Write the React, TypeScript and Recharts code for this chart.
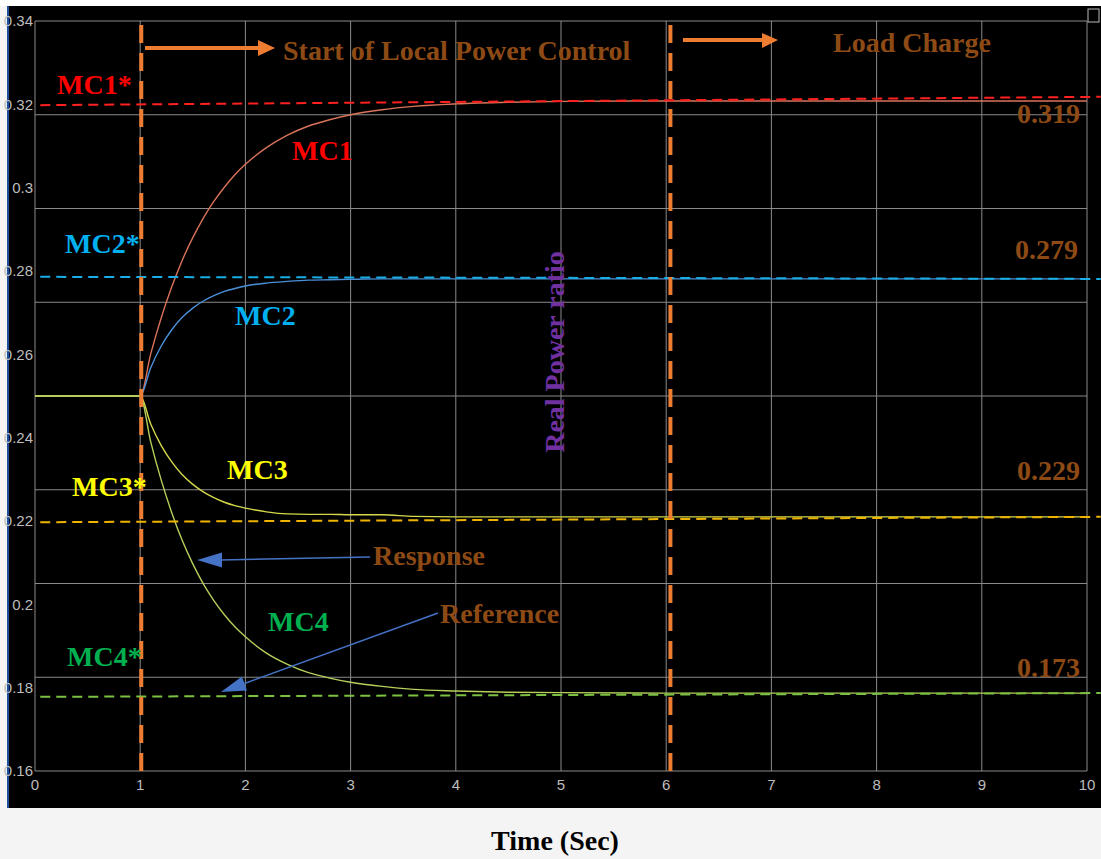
import { CartesianGrid, Line, LineChart, ReferenceLine, XAxis, YAxis } from "recharts";

// simulation time (s)
const time = [0, 1, 1.1, 1.2, 1.3, 1.4, 1.5, 1.6, 1.7, 1.8, 1.9, 2.0, 2.2, 2.4, 2.6, 2.8, 3.0, 3.3, 3.6, 4.0, 4.5, 5, 6, 7, 8, 9, 10];

const mc1 = [0.25, 0.25, 0.2601, 0.2688, 0.2762, 0.2826, 0.288, 0.2927, 0.2967, 0.3001, 0.3031, 0.3056, 0.3096, 0.3126, 0.3148, 0.3163, 0.3175, 0.3187, 0.3195, 0.3201, 0.3205, 0.3207, 0.3208, 0.3208, 0.3208, 0.3208, 0.3208];
const mc2 = [0.25, 0.25, 0.2568, 0.262, 0.2659, 0.2689, 0.2711, 0.2728, 0.2741, 0.2751, 0.2758, 0.2764, 0.2771, 0.2775, 0.2778, 0.2779, 0.278, 0.2781, 0.2781, 0.2781, 0.2781, 0.2781, 0.2781, 0.2781, 0.2781, 0.2781, 0.2781];
const mc3 = [0.25, 0.25, 0.2433, 0.2381, 0.2342, 0.2311, 0.2288, 0.227, 0.2256, 0.2245, 0.2237, 0.2231, 0.2222, 0.2217, 0.2216, 0.2216, 0.2215, 0.2215, 0.2211, 0.221, 0.221, 0.221, 0.221, 0.221, 0.221, 0.221, 0.221];
const mc4 = [0.25, 0.25, 0.239, 0.2298, 0.222, 0.2153, 0.2097, 0.2049, 0.2009, 0.1975, 0.1946, 0.1922, 0.1883, 0.1856, 0.1836, 0.1823, 0.1813, 0.1803, 0.1796, 0.1792, 0.1789, 0.1788, 0.1787, 0.1787, 0.1787, 0.1787, 0.1787];

// hand-drawn reference (setpoint) lines: value at left end, value at right end
const refSpan = [0.05, 10.13];
const ref1 = [0.3198, 0.3218];
const ref2 = [0.2786, 0.2781];
const ref3 = [0.2197, 0.221];
const ref4 = [0.1778, 0.1787];

// event markers (s)
const startControl = 1.01;
const loadChange = 6.04;

const yTicks = [0.16, 0.18, 0.2, 0.22, 0.24, 0.26, 0.28, 0.3, 0.32, 0.34];
const xTicks = [0, 1, 2, 3, 4, 5, 6, 7, 8, 9, 10];
// scope grid (8 vertical divisions)
const gridY = [0.16, 0.1825, 0.205, 0.2275, 0.25, 0.2725, 0.295, 0.3175, 0.34];

const data = time.map((t, i) => ({ t, mc1: mc1[i], mc2: mc2[i], mc3: mc3[i], mc4: mc4[i] }));

const tickFont = "'Liberation Sans', Arial, sans-serif";
const serif = "'Liberation Serif', 'Times New Roman', serif";
const brown = "#8E4A15";
const orange = "#ED7D31";
const blue = "#4472C4";

const refLine = (vals: number[], color: string) => (
  <ReferenceLine
    segment={[{ x: refSpan[0], y: vals[0] }, { x: refSpan[1], y: vals[1] }]}
    stroke={color}
    strokeWidth={2}
    strokeDasharray="10 6"
    ifOverflow="visible"
  />
);

const label = (text: string, x: number, y: number, fill: string, anchor = "start") => (
  <text x={x} y={y} fill={fill} fontFamily={serif} fontWeight="bold" fontSize={28} textAnchor={anchor}>
    {text}
  </text>
);

export default function App() {
  return (
    <div style={{ position: "absolute", left: 0, top: 0, width: 1101, height: 859, background: "#f4f4f4", overflow: "hidden" }}>
      <div style={{ position: "absolute", left: 0, top: 0, width: 1101, height: 6, background: "#fff" }} />
      <div style={{ position: "absolute", left: 7, top: 6, width: 1092, height: 802, background: "#000", borderLeft: "2px solid #1f4e9a" }} />

      <LineChart
        width={1101}
        height={859}
        data={data}
        margin={{ top: 21, right: 14, bottom: 58, left: 5 }}
        style={{ position: "absolute", left: 0, top: 0 }}
      >
        <CartesianGrid stroke="#8a8a8a" strokeWidth={1} horizontalValues={gridY} verticalValues={xTicks} />
        <XAxis
          dataKey="t"
          type="number"
          domain={[0, 10]}
          ticks={xTicks}
          axisLine={false}
          tickLine={false}
          tickSize={0}
          tickMargin={8}
          tick={{ fill: "#bdbdbd", fontSize: 15, fontFamily: tickFont }}
        />
        <YAxis
          type="number"
          domain={[0.16, 0.34]}
          ticks={yTicks}
          width={30}
          axisLine={false}
          tickLine={false}
          tickSize={0}
          tickMargin={2}
          tickFormatter={(v: number) => String(Number(v.toFixed(2)))}
          tick={{ fill: "#bdbdbd", fontSize: 15, fontFamily: tickFont }}
        />
        <Line type="monotone" dataKey="mc1" stroke="#d9735a" strokeWidth={1.4} dot={false} isAnimationActive={false} />
        <Line type="monotone" dataKey="mc2" stroke="#4a90d9" strokeWidth={1.4} dot={false} isAnimationActive={false} />
        <Line type="monotone" dataKey="mc3" stroke="#d4d84a" strokeWidth={1.4} dot={false} isAnimationActive={false} />
        <Line type="monotone" dataKey="mc4" stroke="#b5cf5a" strokeWidth={1.4} dot={false} isAnimationActive={false} />
        {refLine(ref1, "#ff2020")}
        {refLine(ref2, "#1aaee8")}
        {refLine(ref3, "#f0b400")}
        {refLine(ref4, "#7cc242")}
        <ReferenceLine x={startControl} stroke={orange} strokeWidth={4} strokeDasharray="18 10" />
        <ReferenceLine x={loadChange} stroke={orange} strokeWidth={4} strokeDasharray="18 10" />
      </LineChart>

      <svg width={1101} height={859} style={{ position: "absolute", left: 0, top: 0, pointerEvents: "none" }}>
        {/* event arrows */}
        <line x1={145} y1={48} x2={260} y2={48} stroke={orange} strokeWidth={4} />
        <polygon points="258,40 275,48 258,56" fill={orange} />
        <line x1={683} y1={40} x2={764} y2={40} stroke={orange} strokeWidth={4} />
        <polygon points="762,33 778,40 762,48" fill={orange} />
        {label("Start of Local Power Control", 283, 60, brown)}
        {label("Load Charge", 833, 52, brown)}

        {label("MC1*", 57, 94, "#ff0000")}
        {label("MC1", 292, 160, "#ff0000")}
        {label("MC2*", 65, 253, "#00B0F0")}
        {label("MC2", 235, 325, "#00B0F0")}
        {label("MC3*", 72, 496, "#ffff00")}
        {label("MC3", 227, 479, "#ffff00")}
        {label("MC4*", 67, 666, "#00B050")}
        {label("MC4", 268, 631, "#00B050")}

        {label("0.319", 1080, 123, brown, "end")}
        {label("0.279", 1078, 259, brown, "end")}
        {label("0.229", 1080, 480, brown, "end")}
        {label("0.173", 1080, 677, brown, "end")}

        {/* response / reference pointers */}
        <line x1={370} y1={557} x2={220} y2={560} stroke={blue} strokeWidth={1.5} />
        <polygon points="197,560 222,552.5 222,567.5" fill={blue} />
        {label("Response", 373, 565, brown)}
        <line x1={438} y1={613} x2={244.5} y2={683.5} stroke={blue} strokeWidth={1.5} />
        <polygon points="221,692 247.1,690.5 241.9,676.4" fill={blue} />
        {label("Reference", 440, 623, brown)}

        <text
          transform="translate(564,352) rotate(-90)"
          fill="#7030A0"
          fontFamily={serif}
          fontWeight="bold"
          fontSize={28}
          textAnchor="middle"
        >
          Real Power ratio
        </text>

        <rect x={1088} y={9} width={11} height={13} fill="none" stroke="#bbb" strokeWidth={1} />
        <text x={555} y={850} fill="#000" fontFamily={serif} fontWeight="bold" fontSize={28} textAnchor="middle">
          Time (Sec)
        </text>
      </svg>
    </div>
  );
}
